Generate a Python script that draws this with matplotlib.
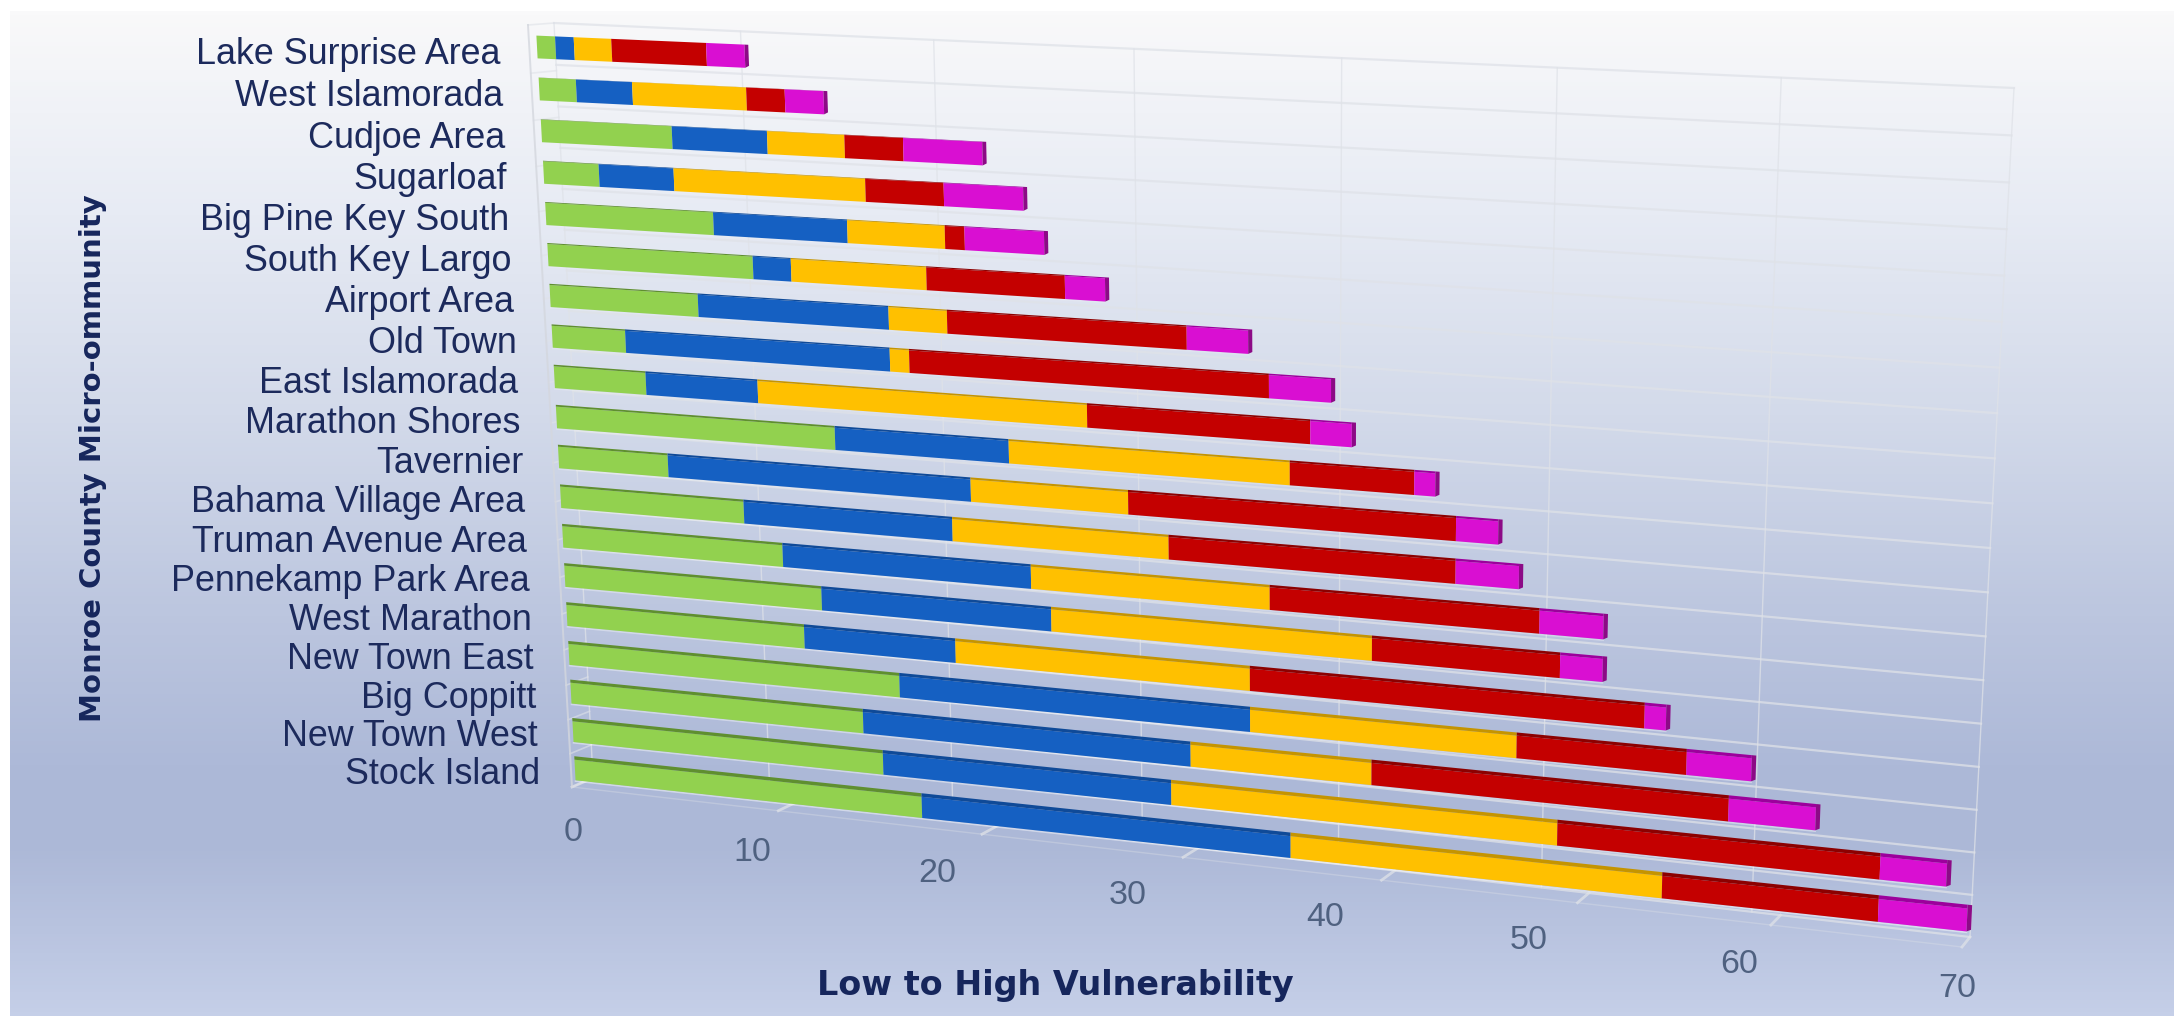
import numpy as np
import matplotlib
matplotlib.use("Agg")
import matplotlib.pyplot as plt
from matplotlib import transforms as mtransforms
from matplotlib.colors import LinearSegmentedColormap

communities = ["Lake Surprise Area", "West Islamorada", "Cudjoe Area", "Sugarloaf",
               "Big Pine Key South", "South Key Largo", "Airport Area", "Old Town",
               "East Islamorada", "Marathon Shores", "Tavernier", "Bahama Village Area",
               "Truman Avenue Area", "Pennekamp Park Area", "West Marathon", "New Town East",
               "Big Coppitt", "New Town West", "Stock Island"]

green = [1, 2, 7, 3, 9, 11, 8, 4, 5, 15, 6, 10, 12, 14, 13, 18, 16, 17, 19]
blue = [1, 3, 5, 4, 7, 2, 10, 14, 6, 9, 16, 11, 13, 12, 8, 18, 17, 15, 19]
yellow = [2, 6, 4, 10, 5, 7, 3, 1, 17, 14, 8, 11, 12, 16, 15, 13, 9, 19, 18]
red = [5, 2, 3, 4, 1, 7, 12, 18, 11, 6, 16, 14, 13, 9, 19, 8, 17, 15, 10]
magenta = [2, 2, 4, 4, 4, 2, 3, 3, 2, 1, 2, 3, 3, 2, 1, 3, 4, 3, 4]

value_ticks = [0, 10, 20, 30, 40, 50, 60, 70]

series = [green, blue, yellow, red, magenta]
face_colors = ["#92d14f", "#1560c2", "#ffc000", "#c40000", "#d90fd2"]
top_colors = ["#5f8f2f", "#0f4a98", "#c59400", "#8c0000", "#9c009c"]
end_color = "#8c0a86"


class Homography(mtransforms.Transform):
    # maps a chart plane onto the tilted picture plane
    input_dims = 2
    output_dims = 2

    def __init__(self, src, dst):
        super().__init__()
        rows = []
        rhs = []
        for (x, y), (u, v) in zip(src, dst):
            rows.append([x, y, 1, 0, 0, 0, -u * x, -u * y])
            rows.append([0, 0, 0, x, y, 1, -v * x, -v * y])
            rhs += [u, v]
        h = np.linalg.solve(np.array(rows, float), np.array(rhs, float))
        self.m = np.append(h, 1).reshape(3, 3)

    def transform_non_affine(self, values):
        values = np.asarray(values, float)
        pts = np.column_stack([values, np.ones(len(values))]) @ self.m.T
        return pts[:, :2] / pts[:, 2:]


fig = plt.figure(figsize=(21.74, 10.16), dpi=100)
ax = fig.add_axes([0, 0, 1, 1])
ax.set_xlim(0, 2174)
ax.set_ylim(1016, 0)
ax.axis("off")
ax.set_autoscale_on(False)

# background gradient
stops = [(0, "#f9f9fa"), (0.2, "#e7ebf4"), (0.4, "#d3daea"), (0.6, "#bcc6df"),
         (0.75, "#adb9d8"), (0.83, "#acb8d7"), (1, "#c5cfe8")]
cmap = LinearSegmentedColormap.from_list("bg", stops)
ax.imshow(np.linspace(0, 1, 256).reshape(-1, 1), cmap=cmap, aspect="auto",
          extent=[10, 2174, 1016, 11], zorder=0)
ax.set_xlim(0, 2174)
ax.set_ylim(1016, 0)

n = len(communities)
wall = Homography([(0, 0), (70, 0), (70, n), (0, n)],
                  [(554, 23), (2014, 88), (1970, 937), (593, 778)]) + ax.transData
floor = Homography([(0, 0), (70, 0), (70, 1), (0, 1)],
                   [(593, 778), (1970, 937), (1962, 947), (572, 787)]) + ax.transData
side = Homography([(0, 0), (1, 0), (1, n), (0, n)],
                  [(554, 23), (528, 25), (572, 787), (593, 778)]) + ax.transData
bars = Homography([(0, 0), (70, 0), (70, n - 1), (0, n - 1)],
                  [(537, 47), (2004, 112), (1967, 920), (575, 770)]) + ax.transData

grid_color = "#dfe2e8"
for v in value_ticks:
    ax.plot([v, v], [0, n], color=grid_color, lw=1, alpha=0.75, transform=wall, zorder=1)
    ax.plot([v, v], [0, 1], color=grid_color, lw=2, alpha=0.75, transform=floor, zorder=1)
for r in range(n + 1):
    ax.plot([0, 70], [r, r], color=grid_color, lw=1.6, alpha=0.75, transform=wall, zorder=1)
    ax.plot([0, 1], [r, r], color=grid_color, lw=1.2, alpha=0.6, transform=side, zorder=1)
ax.plot([1, 1], [0, n], color="#d4d7de", lw=1.4, alpha=0.8, transform=side, zorder=1)
ax.plot([0, 70], [1, 1], color=grid_color, lw=1, alpha=0.35, transform=floor, zorder=1)

# stacked bars, top row first
half = 0.27
for r in range(n):
    top_band = 0.09 * r / (n - 1)
    left = 0
    for s, vals in enumerate(series):
        right = left + vals[r]
        ax.fill([left, right, right, left], [r - half, r - half, r + half, r + half],
                color=face_colors[s], lw=0, transform=bars, zorder=3)
        ax.fill([left, right, right, left],
                [r - half - top_band, r - half - top_band, r - half, r - half],
                color=top_colors[s], lw=0, transform=bars, zorder=3)
        left = right
    ax.fill([left, left + 0.2, left + 0.2, left],
            [r - half - top_band, r - half - top_band, r + half - 0.05, r + half],
            color=end_color, lw=0, transform=bars, zorder=3)
    # pale rim under the bar
    ax.plot([0, left], [r + half + 0.02, r + half + 0.02], color="white", lw=1.2,
            alpha=0.45 * r / (n - 1), transform=bars, zorder=2)

text_color = "#1c2a5c"
for r, name in enumerate(communities):
    ax.text(-2, r + 0.22, name, ha="right", va="center", fontsize=25.8,
            family="Liberation Sans", color=text_color, transform=bars, zorder=4)
for v in value_ticks:
    ax.text(v - 0.3, n + 0.65, str(v), ha="center", va="center", fontsize=24.5,
            family="Liberation Sans", color="#4f6180", transform=bars, zorder=4)

ax.text(1055, 986, "Low to High Vulnerability", ha="center", va="center", fontsize=24,
        family="DejaVu Sans", weight="bold", color="#16265c", zorder=4)
ax.text(93, 458, "Monroe County Micro-ommunity", ha="center", va="center", fontsize=21,
        rotation=90, family="DejaVu Sans", weight="bold", color="#16265c", zorder=4)

fig.savefig("out.png", dpi=100)
